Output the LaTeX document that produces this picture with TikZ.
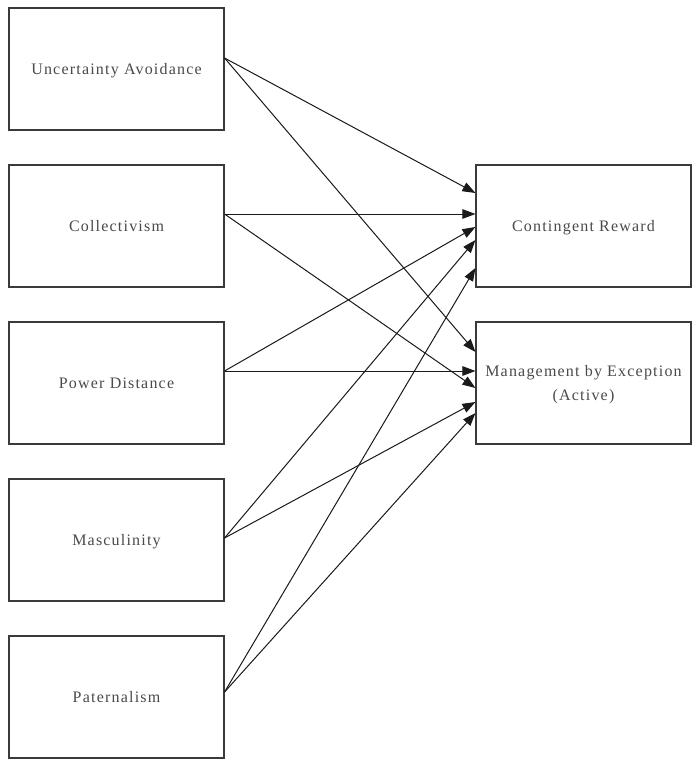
\documentclass[tikz,border=0pt]{standalone}
\usepackage{fontspec}
\setmainfont{Liberation Serif}[LetterSpace=7.5]
\usetikzlibrary{arrows.meta}
\definecolor{boxc}{HTML}{3A3A3A}
\definecolor{txtc}{HTML}{4A4A4A}
\definecolor{linec}{HTML}{1A1A1A}
\begin{document}
\begin{tikzpicture}[x=1pt,y=-1pt,
  box/.style={draw=boxc, line width=1.1pt, minimum width=215pt, minimum height=122pt,
    inner sep=0pt, text=txtc, font=\fontsize{16}{24}\selectfont, align=center, text depth=0pt},
  link/.style={draw=linec, line width=1pt, -{Triangle[length=13pt,width=9.5pt]}}]
\path[fill=white, use as bounding box] (0,0) rectangle (694,761);

\node[box] (ua)   at (116.5,69)  {Uncertainty Avoidance};
\node[box] (coll) at (116.5,226) {Collectivism};
\node[box] (pd)   at (116.5,383) {Power Distance};
\node[box] (masc) at (116.5,540) {Masculinity};
\node[box] (pat)  at (116.5,697) {Paternalism};

\node[box] (cr)  at (583.5,226) {Contingent Reward};
\node[box] (mbe) at (583.5,383) {Management by Exception\\(Active)};

\draw[link] ([yshift=11pt]ua.east)   -- ([yshift=33pt]cr.west);
\draw[link] ([yshift=11pt]ua.east)   -- ([yshift=31pt]mbe.west);
\draw[link] ([yshift=12pt]coll.east) -- ([yshift=12pt]cr.west);
\draw[link] ([yshift=12pt]coll.east) -- ([yshift=-5pt]mbe.west);
\draw[link] ([yshift=12pt]pd.east)   -- ([yshift=-1pt]cr.west);
\draw[link] ([yshift=12pt]pd.east)   -- ([yshift=12pt]mbe.west);
\draw[link] ([yshift=2pt]masc.east)  -- ([yshift=-14pt]cr.west);
\draw[link] ([yshift=2pt]masc.east)  -- ([yshift=-19pt]mbe.west);
\draw[link] ([yshift=5pt]pat.east)   -- ([yshift=-42pt]cr.west);
\draw[link] ([yshift=5pt]pat.east)   -- ([yshift=-30pt]mbe.west);
\end{tikzpicture}
\end{document}
